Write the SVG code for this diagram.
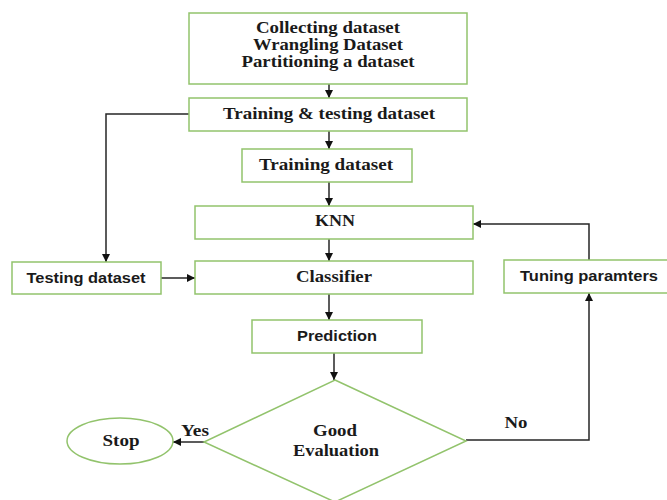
<svg xmlns="http://www.w3.org/2000/svg" width="667" height="500" viewBox="0 0 667 500">
  <style>
    .box { fill: #ffffff; stroke: #92c36c; stroke-width: 1.5; }
    .serif { font-family: "Liberation Serif", "Times New Roman", serif; font-weight: bold; font-size: 16px; fill: #1a1a1a; text-anchor: middle; }
    .sans { font-family: "Liberation Sans", Arial, sans-serif; font-weight: bold; font-size: 15px; fill: #1a1a1a; text-anchor: middle; }
    .wire { fill: none; stroke: #262626; stroke-width: 1.5; }
  </style>
  <defs>
    <marker id="arrow" viewBox="0 0 10 10" refX="10" refY="5" markerWidth="8" markerHeight="8" markerUnits="userSpaceOnUse" orient="auto">
      <path d="M0,0 L10,5 L0,10 z" fill="#111111"/>
    </marker>
  </defs>
  <rect width="667" height="500" fill="#ffffff"/>

  <g id="connectors">
    <path class="wire" d="M329,84 V98" marker-end="url(#arrow)"/>
    <path class="wire" d="M329,131 V149" marker-end="url(#arrow)"/>
    <path class="wire" d="M329,182 V206" marker-end="url(#arrow)"/>
    <path class="wire" d="M329,239 V261" marker-end="url(#arrow)"/>
    <path class="wire" d="M329,294 V320" marker-end="url(#arrow)"/>
    <path class="wire" d="M334,353 V380" marker-end="url(#arrow)"/>
    <path class="wire" d="M189,114 H106 V262" marker-end="url(#arrow)"/>
    <path class="wire" d="M161,278 H195" marker-end="url(#arrow)"/>
    <path class="wire" d="M204,442 H173" marker-end="url(#arrow)"/>
    <path class="wire" d="M466,440 H589 V293" marker-end="url(#arrow)"/>
    <path class="wire" d="M589,260 V224 H473" marker-end="url(#arrow)"/>
    <text class="serif" x="195" y="436" textLength="28" lengthAdjust="spacingAndGlyphs">Yes</text>
    <text class="serif" x="516" y="428" textLength="23" lengthAdjust="spacingAndGlyphs">No</text>
  </g>

  <g id="prepare">
    <rect class="box" x="189" y="13" width="278" height="71"/>
    <text class="serif" x="328" y="33" textLength="144" lengthAdjust="spacingAndGlyphs">Collecting dataset</text>
    <text class="serif" x="328" y="50" textLength="150" lengthAdjust="spacingAndGlyphs">Wrangling Dataset</text>
    <text class="serif" x="328" y="67" textLength="173" lengthAdjust="spacingAndGlyphs">Partitioning a dataset</text>
  </g>

  <g id="train-test">
    <rect class="box" x="189" y="98" width="278" height="33"/>
    <text class="serif" x="329" y="119" textLength="212" lengthAdjust="spacingAndGlyphs">Training &amp; testing dataset</text>
  </g>

  <g id="training">
    <rect class="box" x="242" y="149" width="170" height="33"/>
    <text class="serif" x="326" y="170" textLength="134" lengthAdjust="spacingAndGlyphs">Training dataset</text>
  </g>

  <g id="knn">
    <rect class="box" x="195" y="206" width="278" height="33"/>
    <text class="serif" x="335" y="226" textLength="40" lengthAdjust="spacingAndGlyphs">KNN</text>
  </g>

  <g id="classifier">
    <rect class="box" x="195" y="261" width="278" height="33"/>
    <text class="serif" x="334" y="282" textLength="76" lengthAdjust="spacingAndGlyphs">Classifier</text>
  </g>

  <g id="testing">
    <rect class="box" x="12" y="262" width="149" height="32"/>
    <text class="sans" x="86" y="283" textLength="119" lengthAdjust="spacingAndGlyphs">Testing dataset</text>
  </g>

  <g id="tuning">
    <rect class="box" x="504" y="260" width="166" height="33"/>
    <text class="sans" x="589" y="281" textLength="138" lengthAdjust="spacingAndGlyphs">Tuning paramters</text>
  </g>

  <g id="prediction">
    <rect class="box" x="252" y="320" width="170" height="33"/>
    <text class="sans" x="337" y="341" textLength="80" lengthAdjust="spacingAndGlyphs">Prediction</text>
  </g>

  <g id="evaluation">
    <polygon class="box" points="335,380 466,441 335,502 204,442"/>
    <text class="serif" x="335" y="436" textLength="44" lengthAdjust="spacingAndGlyphs">Good</text>
    <text class="serif" x="336" y="456" textLength="86" lengthAdjust="spacingAndGlyphs">Evaluation</text>
  </g>

  <g id="stop">
    <ellipse class="box" cx="120" cy="441" rx="53" ry="23"/>
    <text class="serif" x="121" y="446" textLength="37" lengthAdjust="spacingAndGlyphs">Stop</text>
  </g>
</svg>
